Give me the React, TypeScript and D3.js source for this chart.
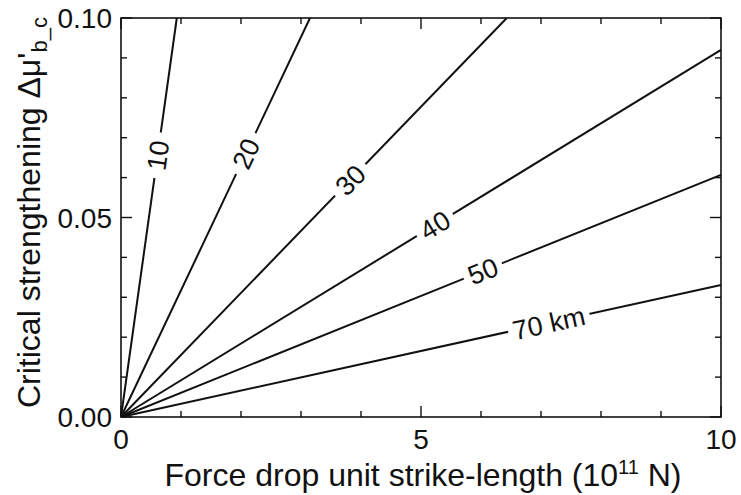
import React from 'react';
import * as d3 from 'd3';

const lineLabels = ['10', '20', '30', '40', '50', '70 km'];
const endX = [0.93, 3.15, 6.43, 10, 10, 10];
const endY = [0.1, 0.1, 0.1, 0.092, 0.0607, 0.0331];
const labelX = [0.61, 2.08, 3.82, 5.23, 6.03, 7.13];
const xTicks = d3.range(0, 11, 1);
const xTickLabels = [0, 5, 10];
const yTicks = d3.range(0, 11, 1).map((d) => d / 100);
const yTickLabels = [0, 0.05, 0.1];

const W = 741;
const H = 495;
const M = { left: 121, right: 721, top: 18, bottom: 417 };
const FONT = 'Liberation Sans, Arial, Helvetica, sans-serif';

const charW: Record<string, number> = { '0': 0.556, '1': 0.556, '2': 0.556, '3': 0.556, '4': 0.556, '5': 0.556, '7': 0.556, ' ': 0.278, k: 0.5, m: 0.833 };
const textWidth = (s: string, fs: number) => s.split('').reduce((a, c) => a + (charW[c] ?? 0.55), 0) * fs;

export default function App() {
  const x = d3.scaleLinear().domain([0, 10]).range([M.left, M.right]);
  const y = d3.scaleLinear().domain([0, 0.1]).range([M.bottom, M.top]);
  const line = d3.line<[number, number]>().x((d) => x(d[0])).y((d) => y(d[1]));
  const labFs = 27;
  const tickFs = 28;
  const axFs = 32;

  return (
    <svg width={W} height={H} style={{ position: 'absolute', left: 0, top: 0, background: '#fff' }} fontFamily={FONT}>
      <rect x={0} y={0} width={W} height={H} fill="#fff" />
      {lineLabels.map((lab, i) => {
        const pts: [number, number][] = [[0, 0], [endX[i], endY[i]]];
        const lx = labelX[i];
        const ly = (endY[i] / endX[i]) * lx;
        const px = x(lx);
        const py = y(ly);
        const rad = Math.atan2(y(endY[i]) - y(0), x(endX[i]) - x(0));
        const ang = (rad * 180) / Math.PI;
        const tw = textWidth(lab, labFs);
        const gw = tw + 8 + 8 * Math.abs(Math.sin(rad));
        return (
          <g key={lab}>
            <path d={line(pts) ?? ''} fill="none" stroke="#111" strokeWidth={2} />
            <g transform={`translate(${px},${py}) rotate(${ang})`}>
              <rect x={-gw / 2} y={-labFs * 0.42} width={gw} height={labFs * 0.84} fill="#fff" />
              <text x={0} y={labFs * 0.36} textAnchor="middle" fontSize={labFs} fill="#111">{lab}</text>
            </g>
          </g>
        );
      })}
      <rect x={M.left} y={M.top} width={M.right - M.left} height={M.bottom - M.top} fill="none" stroke="#111" strokeWidth={1.6} />
      {xTicks.map((t) => {
        const len = t % 5 === 0 ? 11 : 6;
        return (
          <g key={'xt' + t}>
            <line x1={x(t)} x2={x(t)} y1={M.bottom} y2={M.bottom - len} stroke="#111" strokeWidth={1.4} />
            <line x1={x(t)} x2={x(t)} y1={M.top} y2={M.top + len} stroke="#111" strokeWidth={1.4} />
          </g>
        );
      })}
      {yTicks.map((t, i) => {
        const len = i % 5 === 0 ? 11 : 6;
        return (
          <g key={'yt' + i}>
            <line x1={M.left} x2={M.left + len} y1={y(t)} y2={y(t)} stroke="#111" strokeWidth={1.4} />
            <line x1={M.right} x2={M.right - len} y1={y(t)} y2={y(t)} stroke="#111" strokeWidth={1.4} />
          </g>
        );
      })}
      {xTickLabels.map((t) => (
        <text key={'xl' + t} x={x(t)} y={M.bottom + 32} textAnchor="middle" fontSize={tickFs} fill="#111">{t}</text>
      ))}
      {yTickLabels.map((t) => (
        <text key={'yl' + t} x={M.left - 9} y={y(t) + 10} textAnchor="end" fontSize={tickFs} fill="#111">{t.toFixed(2)}</text>
      ))}
      <text x={423} y={486} textAnchor="middle" fontSize={axFs} fill="#111">
        Force drop unit strike-length (10<tspan dy={-12} fontSize={20}>11</tspan><tspan dy={12}> N)</tspan>
      </text>
      <text transform={`translate(40,408) rotate(-90)`} textAnchor="start" fontSize={axFs} fill="#111">
        Critical strengthening Δμ'<tspan dy={7} fontSize={22}>b_c</tspan>
      </text>
    </svg>
  );
}
